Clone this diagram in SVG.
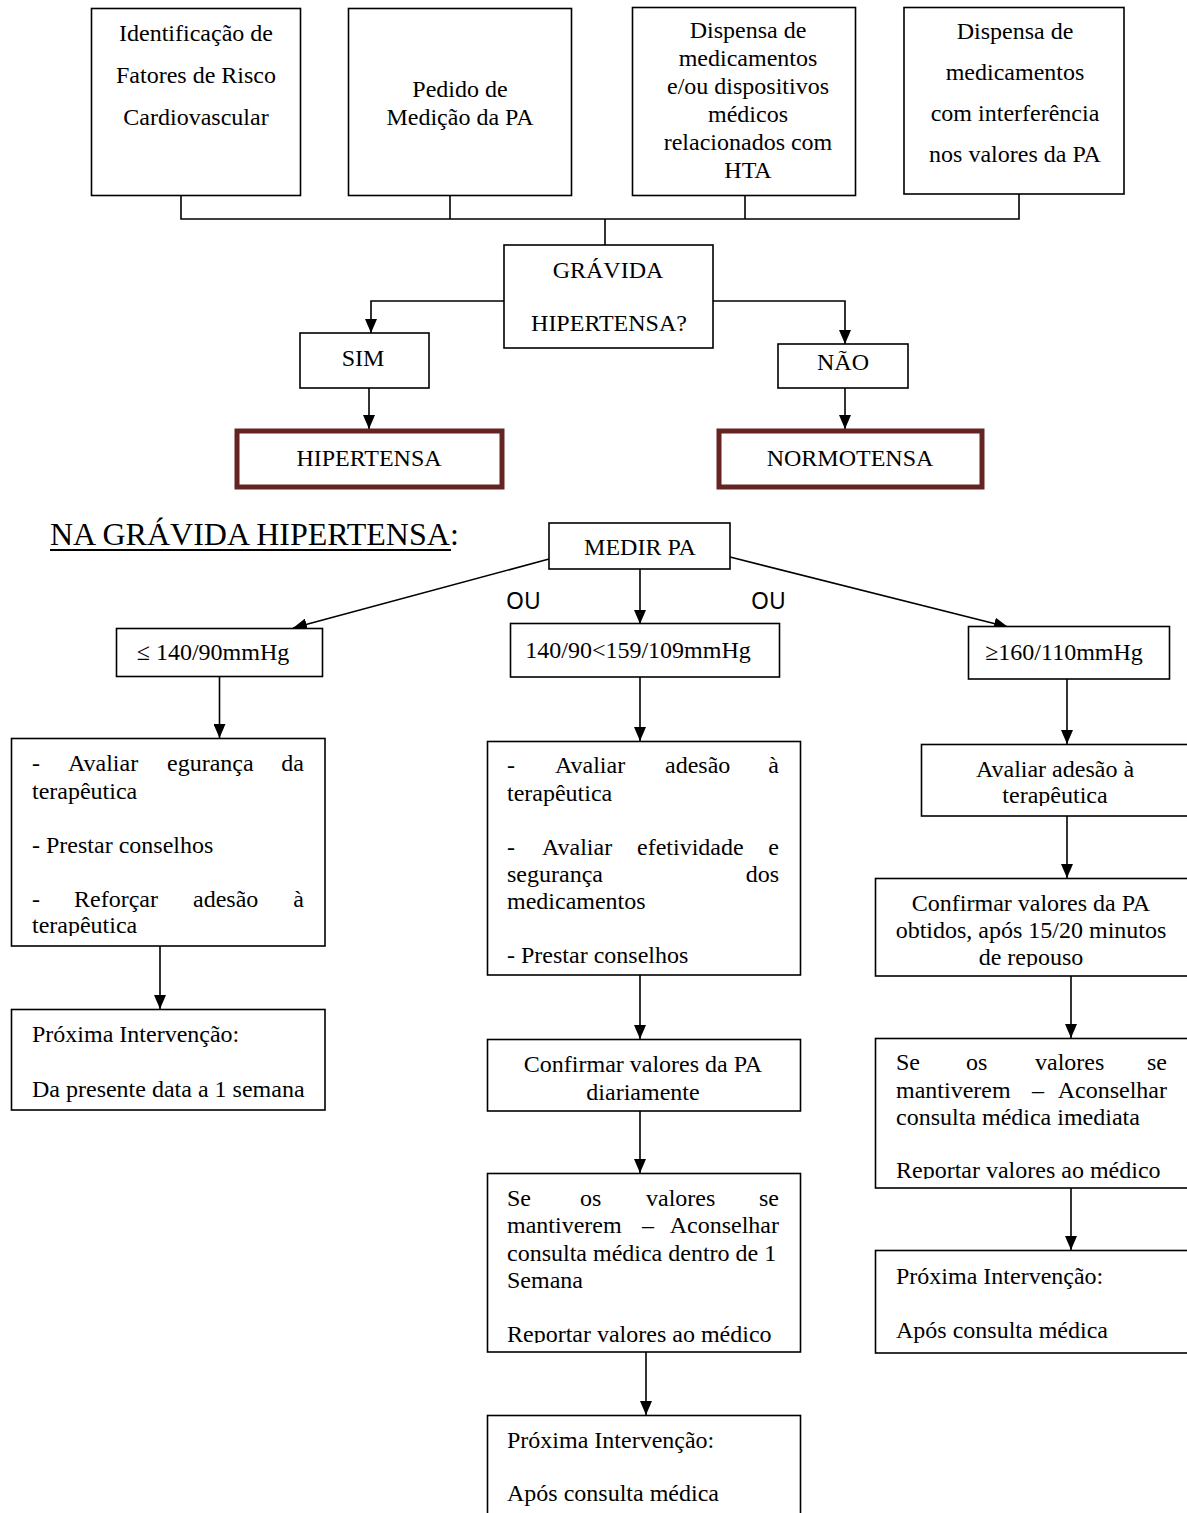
<svg xmlns="http://www.w3.org/2000/svg" width="1187" height="1513" viewBox="0 0 1187 1513">
<style>
.box{fill:#fff;stroke:#000;stroke-width:1.6}
.red{fill:#fff;stroke:#632423;stroke-width:5}
.t{font-family:"Liberation Serif","Times New Roman",serif;font-size:24px;fill:#000}
.c{text-anchor:middle}
.e{text-anchor:end}
.ou{font-family:"Noto Sans","Liberation Sans",sans-serif;font-size:23px;fill:#000}
.ln{fill:none;stroke:#000;stroke-width:1.6}
.ar{fill:none;stroke:#000;stroke-width:1.6;marker-end:url(#ah)}
</style>
<defs>
<marker id="ah" markerUnits="userSpaceOnUse" markerWidth="14" markerHeight="12" refX="14" refY="6" orient="auto">
<path d="M0,0 L14,6 L0,12 z" fill="#000"/>
</marker>
<clipPath id="clL1"><rect x="0" y="730" width="400" height="206"/></clipPath>
<clipPath id="clR1"><rect x="860" y="730" width="327" height="76"/></clipPath>
<clipPath id="clR2"><rect x="860" y="870" width="327" height="97"/></clipPath>
<clipPath id="clR3"><rect x="860" y="1030" width="327" height="149"/></clipPath>
<clipPath id="clM3"><rect x="480" y="1165" width="330" height="178"/></clipPath>
</defs>
<rect width="1187" height="1513" fill="#fff"/>

<g id="connectors">
<polyline class="ln" points="181,196 181,219 1019,219 1019,194"/>
<line class="ln" x1="450" y1="195" x2="450" y2="219"/>
<line class="ln" x1="745" y1="196" x2="745" y2="219"/>
<line class="ln" x1="605" y1="219" x2="605" y2="245"/>
<polyline class="ar" points="504,301 371,301 371,333"/>
<polyline class="ar" points="713,301 845,301 845,344"/>
<line class="ar" x1="369" y1="388" x2="369" y2="429"/>
<line class="ar" x1="845" y1="388" x2="845" y2="429"/>
<line class="ar" x1="549" y1="559" x2="293" y2="628"/>
<line class="ar" x1="640" y1="569" x2="640" y2="624"/>
<line class="ar" x1="730" y1="557" x2="1008" y2="627"/>
<line class="ar" x1="219.5" y1="676" x2="219.5" y2="738"/>
<line class="ar" x1="160" y1="946" x2="160" y2="1009"/>
<line class="ar" x1="640" y1="677" x2="640" y2="741"/>
<line class="ar" x1="640" y1="975" x2="640" y2="1039"/>
<line class="ar" x1="640" y1="1111" x2="640" y2="1173"/>
<line class="ar" x1="646" y1="1352" x2="646" y2="1415"/>
<line class="ar" x1="1067" y1="679" x2="1067" y2="744"/>
<line class="ar" x1="1067" y1="816" x2="1067" y2="878"/>
<line class="ar" x1="1071" y1="976" x2="1071" y2="1038"/>
<line class="ar" x1="1071" y1="1188" x2="1071" y2="1250"/>
</g>

<g id="n-fatores">
<rect class="box" x="91.5" y="8.5" width="209" height="187"/>
<text class="t c" x="196" y="41">Identificação de</text>
<text class="t c" x="196" y="83">Fatores de Risco</text>
<text class="t c" x="196" y="125">Cardiovascular</text>
</g>
<g id="n-pedido">
<rect class="box" x="348.5" y="8.5" width="223" height="187"/>
<text class="t c" x="460" y="97">Pedido de</text>
<text class="t c" x="460" y="125">Medição da PA</text>
</g>
<g id="n-dispensa1">
<rect class="box" x="632.5" y="7.5" width="223" height="188"/>
<text class="t c" x="748" y="38">Dispensa de</text>
<text class="t c" x="748" y="66">medicamentos</text>
<text class="t c" x="748" y="94">e/ou dispositivos</text>
<text class="t c" x="748" y="122">médicos</text>
<text class="t c" x="748" y="150">relacionados com</text>
<text class="t c" x="748" y="178">HTA</text>
</g>
<g id="n-dispensa2">
<rect class="box" x="904" y="7.5" width="220" height="186.5"/>
<text class="t c" x="1015" y="39">Dispensa de</text>
<text class="t c" x="1015" y="80">medicamentos</text>
<text class="t c" x="1015" y="121">com interferência</text>
<text class="t c" x="1015" y="162">nos valores da PA</text>
</g>

<g id="n-gravida">
<rect class="box" x="504" y="245" width="209" height="103"/>
<text class="t c" x="608" y="278">GRÁVIDA</text>
<text class="t c" x="609" y="331">HIPERTENSA?</text>
</g>
<g id="n-sim">
<rect class="box" x="300" y="333" width="129" height="55"/>
<text class="t c" x="363" y="366">SIM</text>
</g>
<g id="n-nao">
<rect class="box" x="778" y="344" width="130" height="44"/>
<text class="t c" x="843" y="370">NÃO</text>
</g>
<g id="n-hipertensa">
<rect class="red" x="237" y="431" width="265" height="56"/>
<text class="t c" x="369" y="466">HIPERTENSA</text>
</g>
<g id="n-normotensa">
<rect class="red" x="719" y="431" width="263" height="56"/>
<text class="t c" x="850" y="466">NORMOTENSA</text>
</g>

<g id="title">
<text class="t" x="50" y="545" style="font-size:32px">NA GRÁVIDA HIPERTENSA:</text>
<line x1="50" y1="550" x2="451" y2="550" stroke="#000" stroke-width="1.8"/>
</g>

<g id="n-medir">
<rect class="box" x="549" y="523" width="181" height="46"/>
<text class="t c" x="640" y="555">MEDIR PA</text>
</g>
<g id="labels-ou">
<text class="ou" x="506" y="609">OU</text>
<text class="ou" x="751" y="609">OU</text>
</g>

<g id="n-low">
<rect class="box" x="116.5" y="628.5" width="206" height="48"/>
<text class="t c" x="213" y="660">≤ 140/90mmHg</text>
</g>
<g id="n-mid">
<rect class="box" x="510.5" y="623.5" width="269" height="53.5"/>
<text class="t c" x="638" y="658">140/90&lt;159/109mmHg</text>
</g>
<g id="n-high">
<rect class="box" x="968.5" y="626.5" width="201" height="52.5"/>
<text class="t c" x="1064" y="660">≥160/110mmHg</text>
</g>

<g id="n-left-act">
<rect class="box" x="11.5" y="738.5" width="313.5" height="207.5"/>
<g clip-path="url(#clL1)">
<text class="t" x="32" y="771">-</text>
<text class="t" x="68" y="771">Avaliar</text>
<text class="t" x="167" y="771">egurança</text>
<text class="t e" x="304" y="771">da</text>
<text class="t" x="32" y="799">terapêutica</text>
<text class="t" x="32" y="853">- Prestar conselhos</text>
<text class="t" x="32" y="907">-</text>
<text class="t" x="74" y="907">Reforçar</text>
<text class="t" x="193" y="907">adesão</text>
<text class="t e" x="304" y="907">à</text>
<text class="t" x="32" y="933">terapêutica</text>
</g>
</g>
<g id="n-left-next">
<rect class="box" x="11.5" y="1009.5" width="313.5" height="100.5"/>
<text class="t" x="32" y="1042">Próxima Intervenção:</text>
<text class="t" x="32" y="1097">Da presente data a 1 semana</text>
</g>

<g id="n-mid-act">
<rect class="box" x="487.5" y="741.5" width="313" height="233.5"/>
<text class="t" x="507" y="773">-</text>
<text class="t" x="555" y="773">Avaliar</text>
<text class="t" x="665" y="773">adesão</text>
<text class="t e" x="779" y="773">à</text>
<text class="t" x="507" y="801">terapêutica</text>
<text class="t" x="507" y="855">-</text>
<text class="t" x="542" y="855">Avaliar</text>
<text class="t" x="637" y="855">efetividade</text>
<text class="t e" x="779" y="855">e</text>
<text class="t" x="507" y="882">segurança</text>
<text class="t e" x="779" y="882">dos</text>
<text class="t" x="507" y="909">medicamentos</text>
<text class="t" x="507" y="963">- Prestar conselhos</text>
</g>
<g id="n-mid-conf">
<rect class="box" x="487.5" y="1039.5" width="313" height="71.5"/>
<text class="t c" x="643" y="1072">Confirmar valores da PA</text>
<text class="t c" x="643" y="1100">diariamente</text>
</g>
<g id="n-mid-se">
<rect class="box" x="487.5" y="1173.5" width="313" height="178.5"/>
<g clip-path="url(#clM3)">
<text class="t" x="507" y="1206">Se</text>
<text class="t" x="580" y="1206">os</text>
<text class="t" x="646" y="1206">valores</text>
<text class="t e" x="779" y="1206">se</text>
<text class="t" x="507" y="1233">mantiverem</text>
<text class="t" x="642" y="1233">–</text>
<text class="t e" x="779" y="1233">Aconselhar</text>
<text class="t" x="507" y="1261">consulta médica dentro de 1</text>
<text class="t" x="507" y="1288">Semana</text>
<text class="t" x="507" y="1342">Reportar valores ao médico</text>
</g>
</g>
<g id="n-mid-next">
<rect class="box" x="487.5" y="1415.5" width="313" height="110"/>
<text class="t" x="507" y="1448">Próxima Intervenção:</text>
<text class="t" x="507" y="1501">Após consulta médica</text>
</g>

<g id="n-right-act">
<rect class="box" x="921.5" y="744.5" width="280" height="71.5"/>
<g clip-path="url(#clR1)">
<text class="t c" x="1055" y="777">Avaliar adesão à</text>
<text class="t c" x="1055" y="803">terapêutica</text>
</g>
</g>
<g id="n-right-conf">
<rect class="box" x="875.5" y="878.5" width="326" height="97.5"/>
<g clip-path="url(#clR2)">
<text class="t c" x="1031" y="911">Confirmar valores da PA</text>
<text class="t c" x="1031" y="938">obtidos, após 15/20 minutos</text>
<text class="t c" x="1031" y="965">de repouso</text>
</g>
</g>
<g id="n-right-se">
<rect class="box" x="875.5" y="1038.5" width="326" height="149.5"/>
<g clip-path="url(#clR3)">
<text class="t" x="896" y="1070">Se</text>
<text class="t" x="966" y="1070">os</text>
<text class="t" x="1035" y="1070">valores</text>
<text class="t e" x="1167" y="1070">se</text>
<text class="t" x="896" y="1098">mantiverem</text>
<text class="t" x="1032" y="1098">–</text>
<text class="t e" x="1167" y="1098">Aconselhar</text>
<text class="t" x="896" y="1125">consulta médica imediata</text>
<text class="t" x="896" y="1178">Reportar valores ao médico</text>
</g>
</g>
<g id="n-right-next">
<rect class="box" x="875.5" y="1250.5" width="326" height="102.5"/>
<text class="t" x="896" y="1284">Próxima Intervenção:</text>
<text class="t" x="896" y="1338">Após consulta médica</text>
</g>
</svg>
